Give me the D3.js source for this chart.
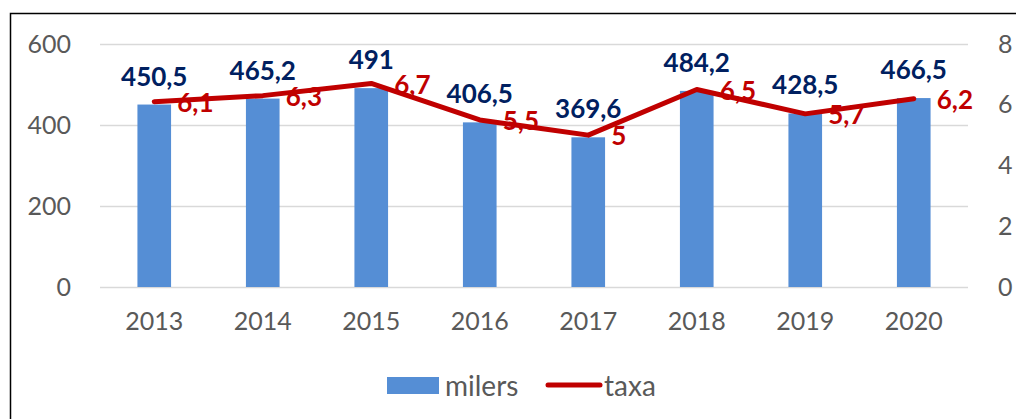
<!DOCTYPE html>
<html><head><meta charset="utf-8">
<script src="https://cdn.jsdelivr.net/npm/d3@7"></script>
<style>body{margin:0;background:#fff}svg{display:block}text{font-family:Lato,"Open Sans",sans-serif}</style>
</head><body>
<script>
const years = ["2013","2014","2015","2016","2017","2018","2019","2020"];
const milers = [450.5,465.2,491,406.5,369.6,484.2,428.5,466.5];
const taxa = [6.1,6.3,6.7,5.5,5,6.5,5.7,6.2];
const leftTicks = [0,200,400,600];
const rightTicks = [0,2,4,6,8];
const fmt = v => String(v).replace(".", ",");

const W = 1016, H = 419;
const svg = d3.select("body").append("svg").attr("width", W).attr("height", H);
// outer border
svg.append("path").attr("d", `M10.5,${H+2} V13.5 H${W+2}`).attr("fill","none").attr("stroke","#000").attr("stroke-width",1.5);

const x0 = 100, x1 = 968, yTop = 44, yBot = 287;
const x = d3.scaleBand().domain(years).range([x0, x1]).paddingInner(0.69).paddingOuter(0.345);
const yL = d3.scaleLinear().domain([0,600]).range([yBot, yTop]);
const yR = d3.scaleLinear().domain([0,8]).range([yBot, yTop]);

// gridlines
svg.append("g").selectAll("line").data(leftTicks).join("line")
  .attr("x1", x0).attr("x2", x1).attr("y1", d=>yL(d)+0.5).attr("y2", d=>yL(d)+0.5)
  .attr("stroke", "#D9D9D9").attr("stroke-width", 1.5);

// left axis
const axL = svg.append("g").attr("transform", `translate(${x0},0)`)
  .call(d3.axisLeft(yL).tickValues(leftTicks).tickSize(0).tickPadding(29));
axL.select(".domain").remove();
axL.selectAll("text").attr("font-size", 25).attr("fill", "#595959").attr("font-family","Lato");

// right axis
const axR = svg.append("g").attr("transform", `translate(${x1},0)`)
  .call(d3.axisRight(yR).tickValues(rightTicks).tickSize(0).tickPadding(30));
axR.select(".domain").remove();
axR.selectAll("text").attr("font-size", 25).attr("fill", "#595959").attr("font-family","Lato");

// x axis
const axX = svg.append("g").attr("transform", `translate(0,${yBot})`)
  .call(d3.axisBottom(x).tickSize(0).tickPadding(25));
axX.select(".domain").remove();
axX.selectAll("text").attr("font-size", 25).attr("fill", "#595959").attr("font-family","Lato");

// bars
svg.append("g").selectAll("rect").data(years).join("rect")
  .attr("x", d=>x(d)).attr("width", x.bandwidth())
  .attr("y", (d,i)=>yL(milers[i])).attr("height", (d,i)=>yBot - yL(milers[i]))
  .attr("fill", "#558ED5");

// bar labels
svg.append("g").selectAll("text").data(years).join("text")
  .attr("x", d=>x(d)+x.bandwidth()/2).attr("y", (d,i)=>yL(milers[i]) - 19)
  .attr("text-anchor","middle").attr("font-size", 26).attr("font-weight","bold")
  .attr("fill","#002060").text((d,i)=>fmt(milers[i]));

// line
const line = d3.line().x((d,i)=>x(years[i])+x.bandwidth()/2).y(d=>yR(d));
svg.append("path").datum(taxa).attr("d", line).attr("fill","none")
  .attr("stroke","#C00000").attr("stroke-width",5).attr("stroke-linejoin","round").attr("stroke-linecap","round");

// line labels
svg.append("g").selectAll("text").data(taxa).join("text")
  .attr("x", (d,i)=>x(years[i])+x.bandwidth()/2 + 23).attr("y", d=>yR(d)+1)
  .attr("dy","0.36em").attr("font-size", 26).attr("font-weight","bold")
  .attr("fill","#C00000").text(d=>fmt(d));

// legend
const lg = svg.append("g");
lg.append("rect").attr("x",387).attr("y",377).attr("width",52).attr("height",17).attr("fill","#558ED5");
lg.append("text").attr("x",445).attr("y",386).attr("dy","0.36em").attr("font-size",28).attr("fill","#595959").text("milers");
lg.append("line").attr("x1",548).attr("x2",600).attr("y1",385).attr("y2",385).attr("stroke","#C00000").attr("stroke-width",5).attr("stroke-linecap","round");
lg.append("text").attr("x",604).attr("y",386).attr("dy","0.36em").attr("font-size",28).attr("fill","#595959").text("taxa");
</script>
</body></html>
